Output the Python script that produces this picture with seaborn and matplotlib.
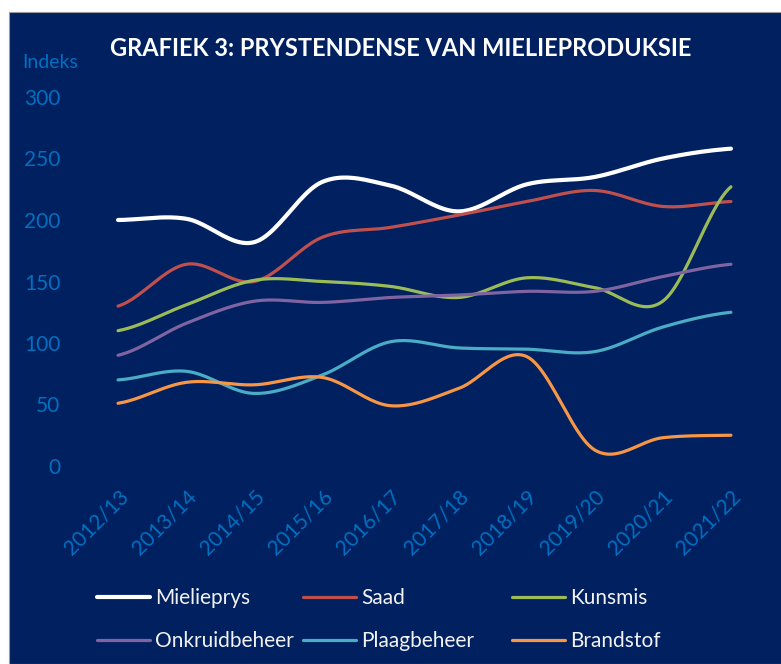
import numpy as np
import pandas as pd
import matplotlib
matplotlib.use("Agg")
import matplotlib.pyplot as plt
import matplotlib.transforms as mtransforms
from matplotlib.patches import Rectangle
import seaborn as sns

# data (index values)
seasons = ["2012/13", "2013/14", "2014/15", "2015/16", "2016/17",
           "2017/18", "2018/19", "2019/20", "2020/21", "2021/22"]
mielieprys = [200, 201, 182, 231, 228, 207, 229, 235, 250, 258]
saad = [130, 164, 150, 186, 194, 204, 215, 224, 211, 215]
kunsmis = [110, 131, 151, 150, 146, 137, 153, 145, 134, 227]
onkruidbeheer = [90, 116, 134, 133, 137, 139, 142, 142, 154, 164]
plaagbeheer = [70, 77, 59, 74, 101, 96, 95, 93, 113, 125]
brandstof = [51, 68, 66, 72, 49, 63, 89, 13, 23, 25]

series_names = ["Mielieprys", "Saad", "Kunsmis", "Onkruidbeheer", "Plaagbeheer", "Brandstof"]
series_values = [mielieprys, saad, kunsmis, onkruidbeheer, plaagbeheer, brandstof]
colors = ["#FFFFFF", "#C0504D", "#9BBB59", "#8064A2", "#4BACC6", "#F79646"]
widths = [3.0, 2.3, 2.3, 2.3, 2.3, 2.3]

navy = "#002060"
tick_blue = "#0070C0"


def smooth(y, n=24):
    # excel-style smoothed line (catmull-rom through the data points)
    y = np.asarray(y, dtype=float)
    x = np.arange(len(y), dtype=float)
    p = np.concatenate([[y[0]], y, [y[-1]]])
    xs, ys = [], []
    t = np.linspace(0, 1, n, endpoint=False)
    for i in range(len(y) - 1):
        p0, p1, p2, p3 = p[i], p[i + 1], p[i + 2], p[i + 3]
        c1 = p1 + (p2 - p0) / 6
        c2 = p2 - (p3 - p1) / 6
        b = (1 - t) ** 3 * p1 + 3 * (1 - t) ** 2 * t * c1 + 3 * (1 - t) * t ** 2 * c2 + t ** 3 * p2
        xs.append(x[i] + t)
        ys.append(b)
    xs.append([x[-1]])
    ys.append([y[-1]])
    return np.concatenate(xs), np.concatenate(ys)


sns.set_style("white")
plt.rcParams["font.family"] = ["Lato", "DejaVu Sans"]

fig = plt.figure(figsize=(7.81, 6.64), dpi=100, facecolor="white")
fig.patches.append(Rectangle((9 / 781, 0), 1, 1 - 12 / 664, transform=fig.transFigure,
                             facecolor=navy, edgecolor="#9a9a9a", linewidth=0.8, zorder=-10))

ax = fig.add_axes([84 / 781, 1 - 466 / 664, (765 - 84) / 781, (466 - 97) / 664])
ax.set_facecolor("none")

for name, vals, col, lw in zip(series_names, series_values, colors, widths):
    sx, sy = smooth(vals)
    sns.lineplot(x=sx, y=sy, ax=ax, color=col, linewidth=lw, label=name,
                 solid_capstyle="round", sort=False)

ax.set_xlim(-0.5, len(seasons) - 0.5)
ax.set_ylim(0, 300)
ax.set_yticks(range(0, 301, 50))
ax.set_xticks(range(len(seasons)))
ax.set_xticklabels(seasons)
ax.tick_params(axis="y", length=0, pad=17, labelsize=15, labelcolor=tick_blue)
ax.tick_params(axis="x", length=0, pad=20, labelsize=15, labelcolor=tick_blue)
shift = mtransforms.ScaledTranslation(7 / 100, 0, fig.dpi_scale_trans)
for lbl in ax.get_xticklabels():
    lbl.set_rotation(45)
    lbl.set_ha("right")
    lbl.set_va("center")
    lbl.set_rotation_mode("anchor")
    lbl.set_transform(lbl.get_transform() + shift)
for s in ax.spines.values():
    s.set_visible(False)
ax.set_xlabel("")
ax.set_ylabel("")
ax.grid(False)

handles, labels = ax.get_legend_handles_labels()
ax.get_legend().remove()
# excel lays the legend out in equal-width columns: one legend per column
col_left = [97, 303, 512]
for c, xpx in enumerate(col_left):
    idx = [c, c + 3]
    leg = fig.legend([handles[i] for i in idx], [labels[i] for i in idx],
                     loc="upper left", bbox_to_anchor=(xpx / 781, 1 - 588 / 664),
                     frameon=False, fontsize=15, handlelength=2.55, handletextpad=0.25,
                     labelspacing=1.1, borderpad=0, borderaxespad=0)
    for t in leg.get_texts():
        t.set_color("#F2F2F2")

fig.text(401 / 781, 1 - 48 / 664, "GRAFIEK 3: PRYSTENDENSE VAN MIELIEPRODUKSIE",
         ha="center", va="center", color="white", fontsize=17, fontweight="bold")
fig.text(22 / 781, 1 - 62 / 664, "Indeks", ha="left", va="center",
         color=tick_blue, fontsize=14)

fig.savefig("out.png", dpi=100, facecolor=fig.get_facecolor())
